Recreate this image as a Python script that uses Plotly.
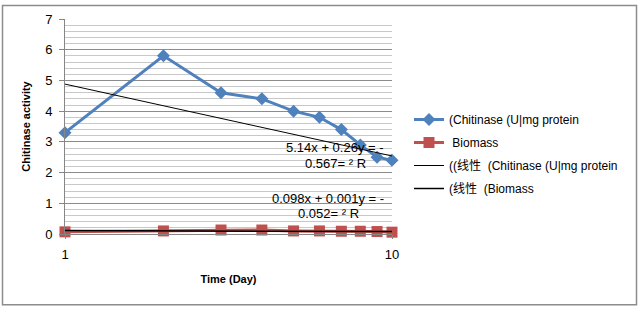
import numpy as np
import plotly.graph_objects as go

days = [1, 2, 3, 4, 5, 6, 7, 8, 9, 10]
chitinase = [3.3, 5.8, 4.6, 4.4, 4.0, 3.8, 3.4, 2.9, 2.5, 2.4]
biomass = [0.07, 0.1, 0.13, 0.13, 0.1, 0.1, 0.09, 0.09, 0.08, 0.06]

names = ["(Chitinase (U|mg protein", "\u00a0Biomass",
         "((线性  (Chitinase (U|mg protein", "(线性  (Biomass"]
eq_chit = ["5.14x + 0.26y = -", "0.567= ² R"]
eq_bio = ["0.098x + 0.001y = -", "0.052= ² R"]

BLUE = "#4F81BD"
RED = "#C0504D"
FONT = "Liberation Sans, Arial, Noto Sans CJK SC"

ends = [days[0], days[-1]]
pc = np.polyfit(days, chitinase, 1)
pb = np.polyfit(days, biomass, 1)
trend_c = list(np.polyval(pc, ends))
trend_b = list(np.polyval(pb, ends))

fig = go.Figure()
fig.add_trace(go.Scatter(x=days, y=chitinase, name=names[0], mode="lines+markers",
                         line=dict(color=BLUE, width=3),
                         marker=dict(symbol="diamond", size=10, color=BLUE),
                         legendgroup="a", cliponaxis=False))
fig.add_trace(go.Scatter(x=days, y=biomass, name=names[1], mode="lines+markers",
                         line=dict(color=RED, width=3),
                         marker=dict(symbol="square", size=11, color=RED),
                         legendgroup="b", cliponaxis=False))
fig.add_trace(go.Scatter(x=ends, y=trend_c, name=names[2], mode="lines",
                         line=dict(color="black", width=1), legendgroup="c"))
fig.add_trace(go.Scatter(x=ends, y=trend_b, name=names[3], mode="lines",
                         line=dict(color="black", width=1.5), legendgroup="d"))

def lx(px):
    return (px - 65) / 327.0

def vy(py):
    return (234 - py) / 31.0

ann = []
for txt, (px, py) in zip(eq_chit + eq_bio, [(335, 147), (335, 163), (328, 198), (328, 213)]):
    ann.append(dict(x=lx(px), y=vy(py), xref="x", yref="y", text=txt, showarrow=False,
                    font=dict(family=FONT, size=13, color="black")))

fig.update_layout(
    width=639, height=309,
    margin=dict(l=65, r=247, t=17, b=75),
    paper_bgcolor="white", plot_bgcolor="white",
    font=dict(family=FONT, color="black"),
    showlegend=True,
    legend=dict(x=1.052, xanchor="left", y=0.6, yanchor="top",
                font=dict(family=FONT, size=12, color="black"),
                traceorder="grouped", tracegroupgap=4, itemwidth=30,
                bgcolor="rgba(0,0,0,0)"),
    annotations=ann,
    shapes=[dict(type="rect", xref="paper", yref="paper",
                 x0=(2.5 - 65) / 327, x1=(636.5 - 65) / 327,
                 y0=(234 - 305.5) / 217, y1=(234 - 3.5) / 217,
                 line=dict(color="#8c8c8c", width=1.5), layer="below")],
)
fig.update_xaxes(type="log", range=[0, 1], tickvals=[1, 10], ticktext=["1", "10"],
                 showgrid=False, showline=True, linecolor="#868686", linewidth=1,
                 ticks="outside", ticklen=4, tickcolor="#868686",
                 tickfont=dict(family=FONT, size=13), ticklabelstandoff=4,
                 title=dict(text="<b>Time (Day)</b>", font=dict(family=FONT, size=11), standoff=14),
                 zeroline=False)
fig.update_yaxes(range=[0, 7], dtick=1, showgrid=True, gridcolor="#8c8c8c", gridwidth=1,
                 minor=dict(dtick=0.2, showgrid=True, gridcolor="#c8c8c8", gridwidth=1),
                 showline=True, linecolor="#868686", linewidth=1,
                 ticks="outside", ticklen=5, tickcolor="#868686",
                 tickfont=dict(family=FONT, size=13), ticklabelstandoff=4,
                 title=dict(text="<b>Chitinase activity</b>", font=dict(family=FONT, size=11), standoff=12),
                 zeroline=False)

fig.write_html("out.html", config={"displayModeBar": False},
               post_script="document.body.style.margin='0';")
